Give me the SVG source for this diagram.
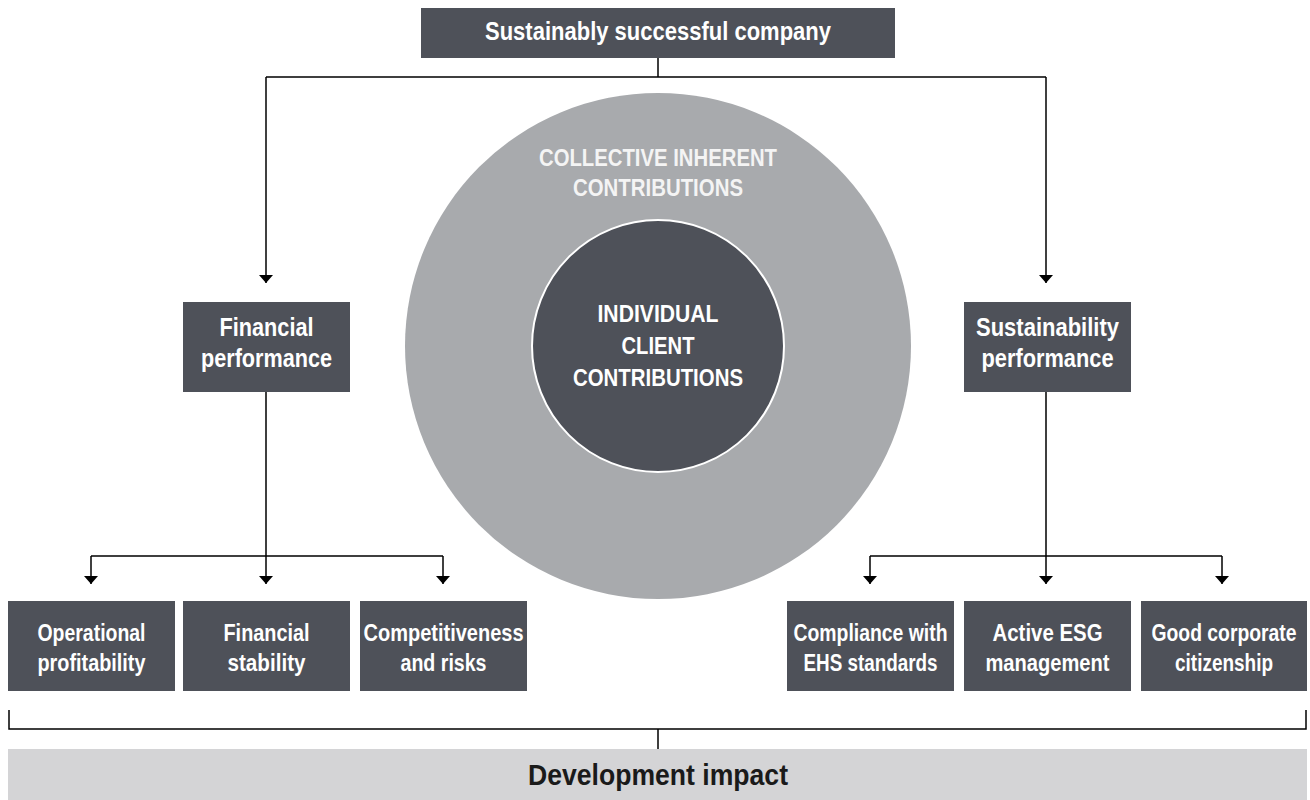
<svg xmlns="http://www.w3.org/2000/svg" width="1310" height="800" viewBox="0 0 1310 800">
<defs>
<style>
.box{fill:#4e5159;}
.lbl{font-family:"Liberation Sans",Arial,sans-serif;font-weight:bold;fill:#ffffff;text-anchor:middle;}
.t26{font-size:26px;}
.t24{font-size:24px;}
.light{fill:#f4f4f4;}
.dark{fill:#1a1a1a;font-size:30px;}
.conn{stroke:#000000;stroke-width:1.5;fill:none;}
.arr{marker-end:url(#ah);}
</style>
<marker id="ah" viewBox="0 -8 10 16" refX="8" refY="0" markerWidth="10" markerHeight="16" markerUnits="userSpaceOnUse" orient="auto">
<path d="M0,-7 L8,0 L0,7 z" fill="#000000"/>
</marker>
</defs>
<rect width="1310" height="800" fill="#ffffff"/>

<g id="circle-outer">
<circle cx="658" cy="346" r="253" fill="#a8aaad"/>
<text class="lbl t24 light" x="658" y="166" textLength="238" lengthAdjust="spacingAndGlyphs">COLLECTIVE INHERENT</text>
<text class="lbl t24 light" x="658" y="196" textLength="170" lengthAdjust="spacingAndGlyphs">CONTRIBUTIONS</text>
</g>
<g id="circle-inner">
<circle cx="658" cy="346" r="126" fill="#4e5159" stroke="#ffffff" stroke-width="2"/>
<text class="lbl t24" x="658" y="322" textLength="121" lengthAdjust="spacingAndGlyphs">INDIVIDUAL</text>
<text class="lbl t24" x="658" y="354" textLength="73" lengthAdjust="spacingAndGlyphs">CLIENT</text>
<text class="lbl t24" x="658" y="386" textLength="170" lengthAdjust="spacingAndGlyphs">CONTRIBUTIONS</text>
</g>

<g id="connectors">
<path class="conn" d="M658 58 V77 M266 77 H1046"/>
<path class="conn arr" d="M266 77 V283"/>
<path class="conn arr" d="M1046 77 V283"/>
<path class="conn" d="M266 392 V556 M91 556 H443"/>
<path class="conn arr" d="M91 556 V584"/>
<path class="conn arr" d="M266 556 V584"/>
<path class="conn arr" d="M443 556 V584"/>
<path class="conn" d="M1046 392 V556 M870 556 H1222"/>
<path class="conn arr" d="M870 556 V584"/>
<path class="conn arr" d="M1046 556 V584"/>
<path class="conn arr" d="M1222 556 V584"/>
<path class="conn" d="M9 710 V729 H1306 V710 M658 729 V749"/>
</g>

<g id="top">
<rect class="box" x="421" y="8" width="474" height="50"/>
<text class="lbl t26" x="658" y="40" textLength="346" lengthAdjust="spacingAndGlyphs">Sustainably successful company</text>
</g>

<g id="financial-performance">
<rect class="box" x="183" y="302" width="167" height="90"/>
<text class="lbl t26" x="266.5" y="336" textLength="94" lengthAdjust="spacingAndGlyphs">Financial</text>
<text class="lbl t26" x="266.5" y="367" textLength="131" lengthAdjust="spacingAndGlyphs">performance</text>
</g>
<g id="sustainability-performance">
<rect class="box" x="964" y="302" width="167" height="90"/>
<text class="lbl t26" x="1047.5" y="336" textLength="143" lengthAdjust="spacingAndGlyphs">Sustainability</text>
<text class="lbl t26" x="1047.5" y="367" textLength="132" lengthAdjust="spacingAndGlyphs">performance</text>
</g>

<g id="operational-profitability">
<rect class="box" x="8" y="601" width="167" height="90"/>
<text class="lbl t24" x="91.5" y="641" textLength="108" lengthAdjust="spacingAndGlyphs">Operational</text>
<text class="lbl t24" x="91.5" y="671" textLength="108" lengthAdjust="spacingAndGlyphs">profitability</text>
</g>
<g id="financial-stability">
<rect class="box" x="183" y="601" width="167" height="90"/>
<text class="lbl t24" x="266.5" y="641" textLength="86" lengthAdjust="spacingAndGlyphs">Financial</text>
<text class="lbl t24" x="266.5" y="671" textLength="78" lengthAdjust="spacingAndGlyphs">stability</text>
</g>
<g id="competitiveness">
<rect class="box" x="360" y="601" width="167" height="90"/>
<text class="lbl t24" x="443.5" y="641" textLength="160" lengthAdjust="spacingAndGlyphs">Competitiveness</text>
<text class="lbl t24" x="443.5" y="671" textLength="86" lengthAdjust="spacingAndGlyphs">and risks</text>
</g>
<g id="compliance">
<rect class="box" x="787" y="601" width="167" height="90"/>
<text class="lbl t24" x="870.5" y="641" textLength="154" lengthAdjust="spacingAndGlyphs">Compliance with</text>
<text class="lbl t24" x="870.5" y="671" textLength="134" lengthAdjust="spacingAndGlyphs">EHS standards</text>
</g>
<g id="active-esg">
<rect class="box" x="964" y="601" width="167" height="90"/>
<text class="lbl t24" x="1047.5" y="641" textLength="110" lengthAdjust="spacingAndGlyphs">Active ESG</text>
<text class="lbl t24" x="1047.5" y="671" textLength="124" lengthAdjust="spacingAndGlyphs">management</text>
</g>
<g id="good-citizenship">
<rect class="box" x="1141" y="601" width="166" height="90"/>
<text class="lbl t24" transform="translate(1224 641) scale(0.806 1)" x="0" y="0">Good corporate</text>
<text class="lbl t24" x="1224" y="671" textLength="98" lengthAdjust="spacingAndGlyphs">citizenship</text>
</g>

<g id="development-impact">
<rect x="8" y="749" width="1299" height="51" fill="#d4d4d6"/>
<text class="lbl dark" x="658" y="785" textLength="260" lengthAdjust="spacingAndGlyphs">Development impact</text>
</g>
</svg>
